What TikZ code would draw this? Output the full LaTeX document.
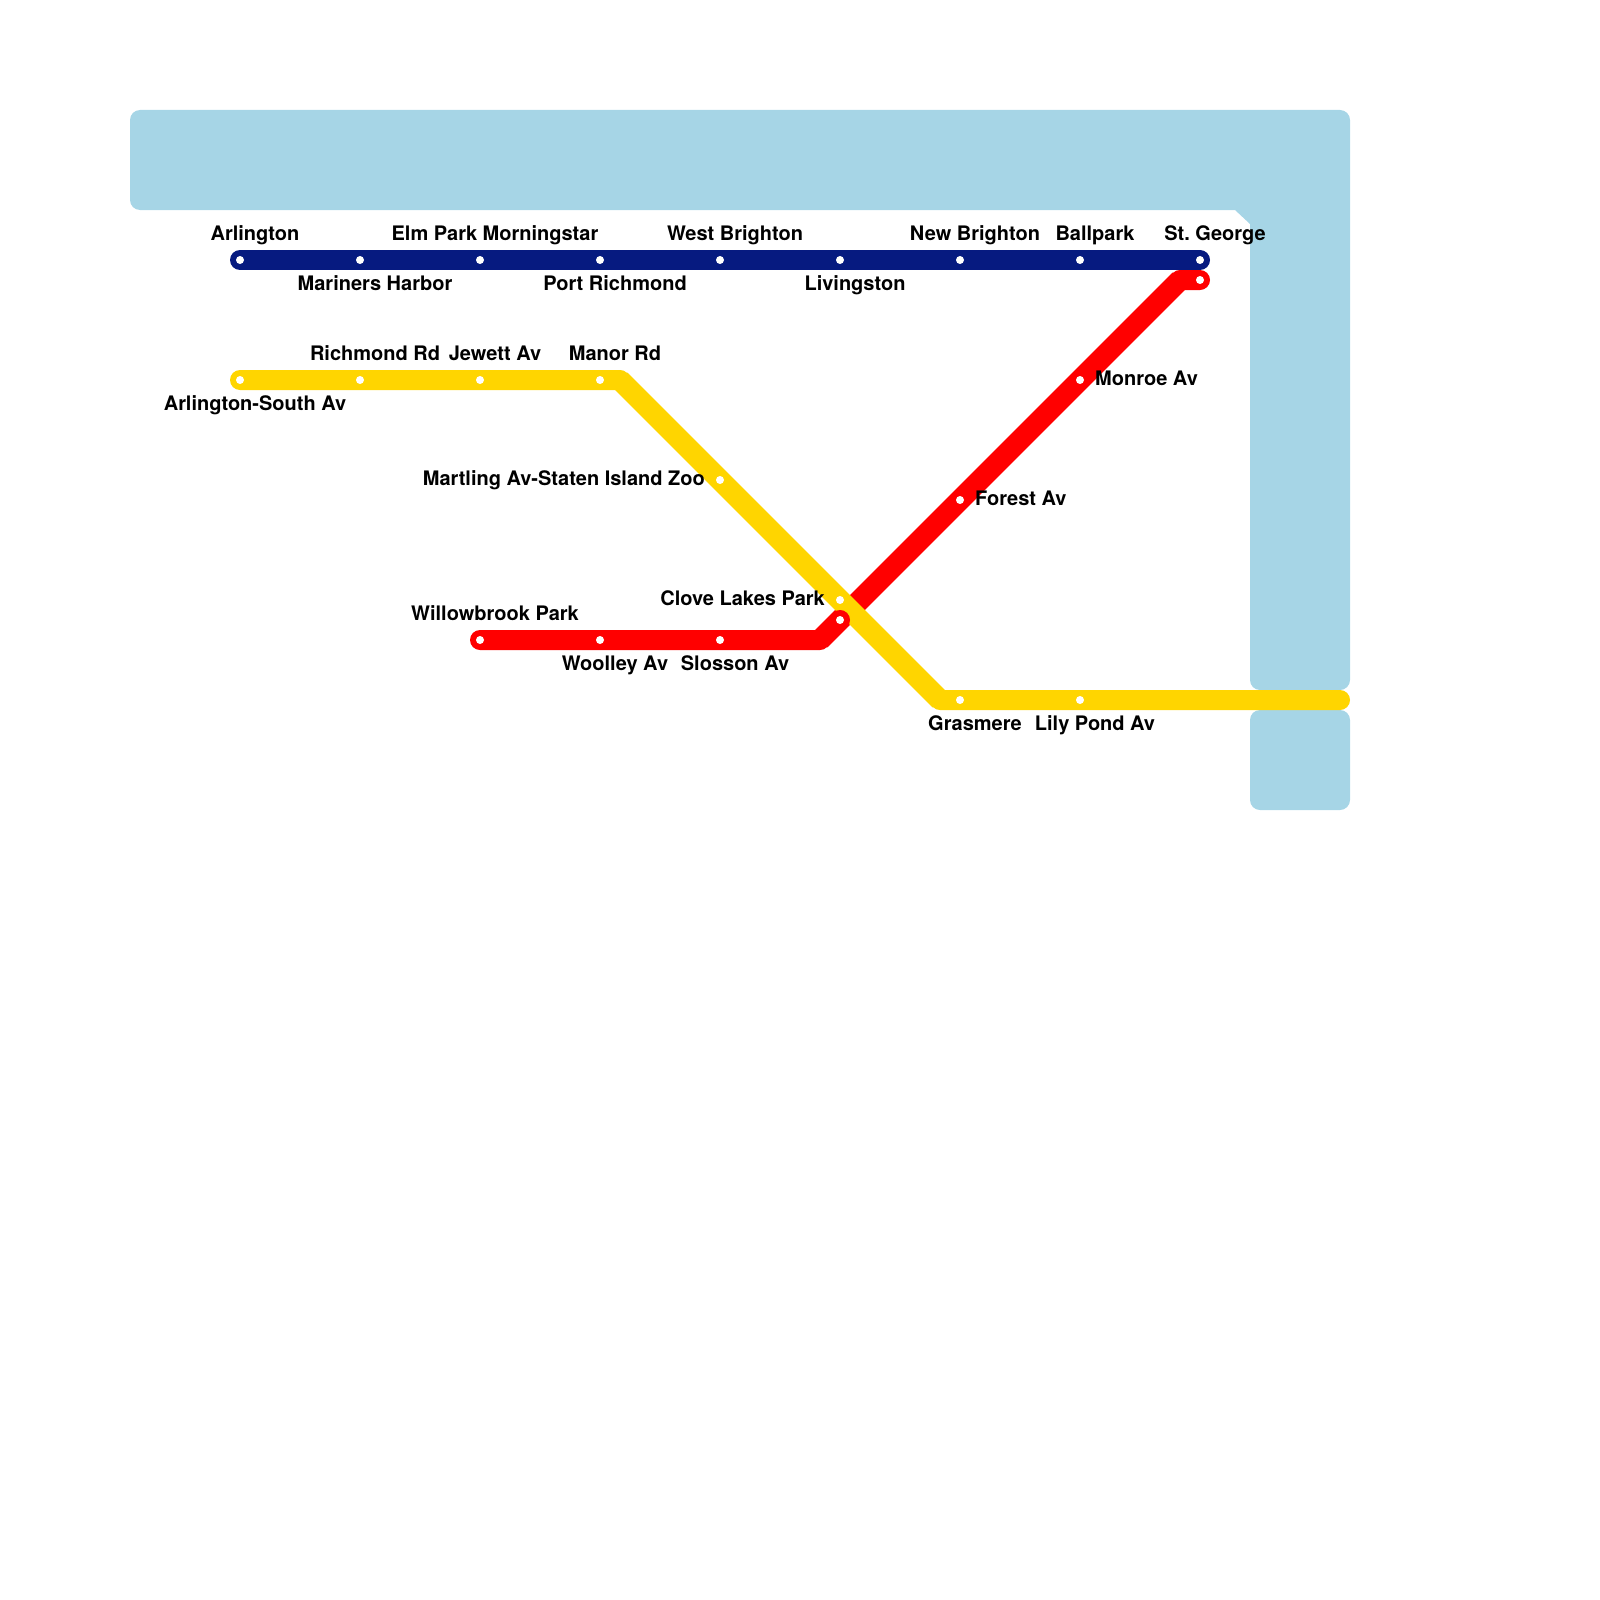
\documentclass[tikz,border=0pt]{standalone}
\usepackage{fontspec}
\setmainfont{TeX Gyre Heros}
\frenchspacing
\definecolor{water}{HTML}{A6D5E6}
\definecolor{navyline}{HTML}{061A80}
\definecolor{goldline}{HTML}{FFD500}
\definecolor{redline}{HTML}{FF0000}
\tikzset{
  water/.style={fill=water,draw=none},
  route/.style={line width=20pt,line cap=round,line join=round},
  diag/.style={line width=21pt,line cap=butt},
  stop/.style={circle,fill=white,draw=none,minimum size=8pt,inner sep=0pt},
  lblc/.style={font=\fontsize{20pt}{24pt}\selectfont\bfseries,inner sep=0pt,anchor=base,text=black},
  lbll/.style={lblc,anchor=base west},
  lblr/.style={lblc,anchor=base east}
}
\begin{document}
\begin{tikzpicture}[x=1pt,y=-1pt]
\useasboundingbox (0,0) rectangle (1600,1600);
% water
\fill[water] (130,160) [rounded corners=10pt] -- (130,110) -- (1350,110) -- (1350,690) -- (1250,690) [sharp corners] -- (1250,224) -- (1235,210) [rounded corners=10pt] -- (130,210) -- (130,160) [sharp corners] -- cycle;
\fill[water,rounded corners=10pt] (1250,710) rectangle (1350,810);
% station positions
\foreach \n/\x/\y in {b1/240/260,b2/360/260,b3/480/260,b4/600/260,b5/720/260,b6/840/260,b7/960/260,b8/1080/260,b9/1200/260,
  y1/240/380,y2/360/380,y3/480/380,y4/600/380,y5/720/480,y6/840/600,y7/960/700,y8/1080/700,
  r1/480/640,r2/600/640,r3/720/640,r4/840/620,r5/960/500,r6/1080/380,r7/1200/280,
  ybendA/620/380,ybendB/940/700,yend/1340/700,rbendA/820/640,rbendB/1180/280}
  \coordinate (\n) at (\x,\y);
% routes
\draw[route,redline] (r4) -- (r5) -- (r6) -- (rbendB) -- (r7);
\draw[diag,redline] (r4) -- (rbendB);
\draw[route,navyline] (b1) -- (b9);
\draw[route,goldline] (y1) -- (y4) -- (ybendA) -- (y5) -- (y6) -- (ybendB) -- (y7) -- (y8) -- (yend);
\draw[diag,goldline] (ybendA) -- (ybendB);
\draw[route,redline] (r1) -- (r2) -- (r3) -- (rbendA) -- (r4);
\draw[diag,redline] (rbendA) -- (r4);
% stops
\foreach \n in {b1,b2,b3,b4,b5,b6,b7,b8,b9,y1,y2,y3,y4,y5,y6,y7,y8,r1,r2,r3,r4,r5,r6,r7}
  \node[stop] (s\n) at (\n) {};
% labels
\node[lblc] (la1) at (255,240) {Arlington};
\node[lblc] (la2) at (375,290) {Mariners Harbor};
\node[lblc] (la3) at (495,240) {Elm Park Morningstar};
\node[lblc] (la4) at (615,290) {Port Richmond};
\node[lblc] (la5) at (735,240) {West Brighton};
\node[lblc] (la6) at (855,290) {Livingston};
\node[lblc] (la7) at (975,240) {New Brighton};
\node[lblc] (la8) at (1095,240) {Ballpark};
\node[lblc] (la9) at (1215,240) {St. George};
\node[lblc] (lb1) at (255,410) {Arlington-South Av};
\node[lblc] (lb2) at (375,360) {Richmond Rd};
\node[lblc] (lb3) at (495,360) {Jewett Av};
\node[lblc] (lb4) at (615,360) {Manor Rd};
\node[lblr] (lb5) at (705,485) {Martling Av-Staten Island Zoo};
\node[lblr] (lb6) at (825,605) {Clove Lakes Park};
\node[lblc] (lb7) at (975,730) {Grasmere};
\node[lblc] (lb8) at (1095,730) {Lily Pond Av};
\node[lblc] (lc1) at (495,620) {Willowbrook Park};
\node[lblc] (lc2) at (615,670) {Woolley Av};
\node[lblc] (lc3) at (735,670) {Slosson Av};
\node[lbll] (lc4) at (975,505) {Forest Av};
\node[lbll] (lc5) at (1095,385) {Monroe Av};
\end{tikzpicture}
\end{document}
